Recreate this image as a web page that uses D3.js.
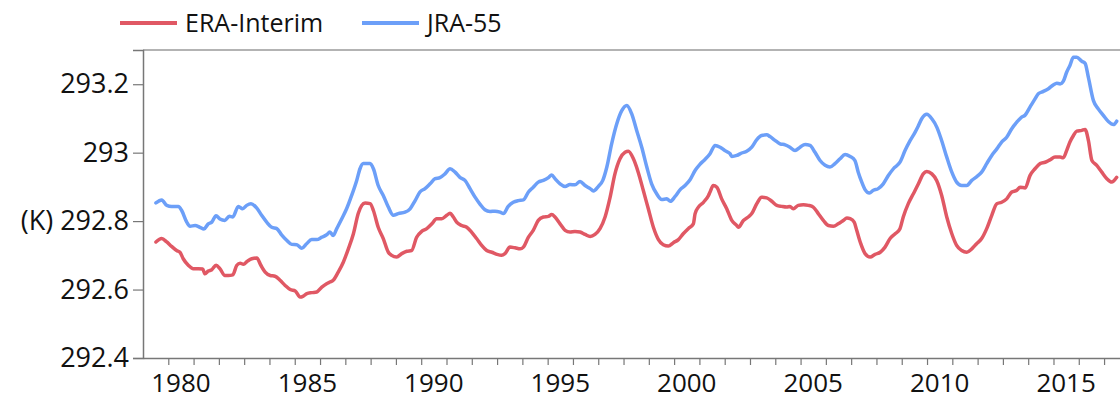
<!DOCTYPE html>
<html>
<head>
<meta charset="utf-8">
<script src="https://cdnjs.cloudflare.com/ajax/libs/d3/7.8.5/d3.min.js"></script>
<style>
    body { margin: 0; background: #fff; }
    text { font-family: "Open Sans", "Noto Sans", sans-serif; fill: #111; }
</style>
</head>
<body>
<div id="chart"></div>
<script>
// series names and colours
var seriesNames = ["ERA-Interim", "JRA-55"];
var seriesColors = ["#e05864", "#6c9ff8"];

// ERA-Interim, 12-month running mean (K)
var eraYears = [1979.51, 1979.74, 1979.94, 1980.13, 1980.33, 1980.46, 1980.59, 1980.79, 1980.99, 1981.19,
    1981.36, 1981.45, 1981.58, 1981.72, 1981.89, 1982.04, 1982.24, 1982.37, 1982.55, 1982.71,
    1982.84, 1982.97, 1983.13, 1983.30, 1983.50, 1983.66, 1983.83, 1984.03, 1984.22, 1984.42,
    1984.62, 1984.82, 1985.02, 1985.21, 1985.34, 1985.48, 1985.67, 1985.87, 1986.07, 1986.26,
    1986.39, 1986.52, 1986.72, 1986.92, 1987.12, 1987.32, 1987.51, 1987.65, 1987.78, 1987.98,
    1988.11, 1988.30, 1988.50, 1988.70, 1988.83, 1989.03, 1989.23, 1989.43, 1989.62, 1989.82,
    1990.02, 1990.22, 1990.42, 1990.61, 1990.81, 1991.01, 1991.14, 1991.27, 1991.40, 1991.60,
    1991.80, 1991.99, 1992.19, 1992.39, 1992.59, 1992.79, 1992.99, 1993.18, 1993.31, 1993.51,
    1993.71, 1993.91, 1994.04, 1994.24, 1994.43, 1994.63, 1994.83, 1995.03, 1995.16, 1995.29,
    1995.49, 1995.69, 1995.88, 1996.08, 1996.28, 1996.48, 1996.68, 1996.87, 1997.07, 1997.27,
    1997.47, 1997.66, 1997.86, 1998.06, 1998.19, 1998.39, 1998.58, 1998.78, 1998.98, 1999.18,
    1999.38, 1999.57, 1999.77, 1999.97, 2000.17, 2000.36, 2000.56, 2000.76, 2000.83, 2000.96,
    2001.16, 2001.36, 2001.42, 2001.55, 2001.69, 2001.88, 2002.08, 2002.28, 2002.48, 2002.54,
    2002.74, 2002.93, 2003.07, 2003.27, 2003.46, 2003.66, 2003.86, 2004.06, 2004.25, 2004.45,
    2004.58, 2004.71, 2004.91, 2005.11, 2005.31, 2005.50, 2005.70, 2005.90, 2006.10, 2006.30,
    2006.49, 2006.69, 2006.83, 2006.96, 2007.12, 2007.22, 2007.38, 2007.55, 2007.75, 2007.95,
    2008.15, 2008.34, 2008.54, 2008.74, 2008.93, 2009.06, 2009.26, 2009.46, 2009.66, 2009.85,
    2009.99, 2010.19, 2010.38, 2010.58, 2010.78, 2010.98, 2011.17, 2011.37, 2011.57, 2011.77,
    2011.96, 2012.16, 2012.36, 2012.56, 2012.76, 2012.95, 2013.15, 2013.35, 2013.55, 2013.68,
    2013.88, 2014.07, 2014.27, 2014.47, 2014.67, 2014.86, 2015.06, 2015.26, 2015.39, 2015.52,
    2015.65, 2015.79, 2015.92, 2016.12, 2016.25, 2016.38, 2016.52, 2016.71, 2016.91, 2017.11,
    2017.30, 2017.50];
var eraValues = [292.739, 292.749, 292.739, 292.726, 292.714, 292.709, 292.690, 292.671, 292.661, 292.661,
    292.660, 292.646, 292.654, 292.658, 292.671, 292.661, 292.641, 292.641, 292.643, 292.671,
    292.677, 292.674, 292.683, 292.690, 292.692, 292.671, 292.651, 292.641, 292.639, 292.627,
    292.612, 292.600, 292.596, 292.578, 292.581, 292.588, 292.591, 292.593, 292.607, 292.617,
    292.622, 292.627, 292.651, 292.680, 292.719, 292.763, 292.822, 292.846, 292.853, 292.851,
    292.831, 292.782, 292.749, 292.709, 292.700, 292.695, 292.705, 292.712, 292.714, 292.753,
    292.770, 292.778, 292.792, 292.807, 292.807, 292.817, 292.823, 292.812, 292.797, 292.787,
    292.782, 292.768, 292.749, 292.729, 292.714, 292.709, 292.703, 292.700, 292.705, 292.724,
    292.722, 292.719, 292.724, 292.753, 292.773, 292.802, 292.812, 292.814, 292.819, 292.812,
    292.792, 292.773, 292.768, 292.770, 292.768, 292.761, 292.755, 292.761, 292.778, 292.812,
    292.870, 292.938, 292.982, 293.001, 293.004, 292.982, 292.943, 292.890, 292.836, 292.782,
    292.746, 292.731, 292.727, 292.737, 292.746, 292.763, 292.778, 292.792, 292.822, 292.841,
    292.855, 292.875, 292.885, 292.904, 292.899, 292.865, 292.836, 292.802, 292.787, 292.782,
    292.802, 292.812, 292.822, 292.851, 292.870, 292.868, 292.858, 292.846, 292.843, 292.841,
    292.843, 292.836, 292.846, 292.848, 292.846, 292.841, 292.822, 292.802, 292.787, 292.785,
    292.792, 292.802, 292.809, 292.807, 292.797, 292.773, 292.734, 292.705, 292.695, 292.703,
    292.709, 292.724, 292.749, 292.763, 292.778, 292.812, 292.851, 292.880, 292.909, 292.938,
    292.945, 292.938, 292.919, 292.875, 292.812, 292.763, 292.729, 292.714, 292.709, 292.719,
    292.734, 292.749, 292.778, 292.817, 292.851, 292.855, 292.865, 292.885, 292.890, 292.899,
    292.897, 292.933, 292.953, 292.968, 292.972, 292.979, 292.987, 292.987, 292.985, 293.006,
    293.031, 293.050, 293.063, 293.065, 293.068, 293.036, 292.977, 292.963, 292.943, 292.924,
    292.914, 292.928];

// JRA-55, 12-month running mean (K)
var jraYears = [1979.51, 1979.74, 1979.94, 1980.13, 1980.40, 1980.53, 1980.73, 1980.86, 1981.06, 1981.25,
    1981.41, 1981.58, 1981.72, 1981.89, 1982.04, 1982.24, 1982.41, 1982.55, 1982.77, 1982.94,
    1983.10, 1983.27, 1983.50, 1983.69, 1983.89, 1984.09, 1984.29, 1984.48, 1984.68, 1984.88,
    1985.08, 1985.28, 1985.47, 1985.67, 1985.87, 1986.07, 1986.26, 1986.39, 1986.52, 1986.66,
    1986.86, 1987.05, 1987.25, 1987.45, 1987.58, 1987.71, 1987.98, 1988.11, 1988.30, 1988.50,
    1988.70, 1988.90, 1989.09, 1989.36, 1989.56, 1989.76, 1989.95, 1990.15, 1990.35, 1990.55,
    1990.74, 1990.94, 1991.14, 1991.34, 1991.53, 1991.73, 1991.93, 1992.13, 1992.33, 1992.52,
    1992.72, 1992.92, 1993.12, 1993.25, 1993.44, 1993.64, 1993.84, 1994.04, 1994.24, 1994.43,
    1994.63, 1994.83, 1995.03, 1995.16, 1995.29, 1995.49, 1995.69, 1995.88, 1996.08, 1996.28,
    1996.48, 1996.68, 1996.81, 1997.00, 1997.18, 1997.34, 1997.53, 1997.73, 1997.93, 1998.13,
    1998.32, 1998.52, 1998.72, 1998.92, 1999.11, 1999.31, 1999.51, 1999.71, 1999.85, 2000.04,
    2000.24, 2000.43, 2000.63, 2000.83, 2001.02, 2001.22, 2001.42, 2001.62, 2001.82, 2002.01,
    2002.21, 2002.28, 2002.48, 2002.67, 2002.87, 2003.07, 2003.27, 2003.46, 2003.66, 2003.79,
    2003.99, 2004.19, 2004.39, 2004.58, 2004.78, 2004.98, 2005.18, 2005.37, 2005.57, 2005.77,
    2005.97, 2006.16, 2006.36, 2006.56, 2006.76, 2006.96, 2007.15, 2007.28, 2007.42, 2007.55,
    2007.72, 2007.88, 2008.07, 2008.27, 2008.47, 2008.67, 2008.93, 2009.13, 2009.33, 2009.53,
    2009.66, 2009.79, 2009.99, 2010.19, 2010.39, 2010.58, 2010.78, 2010.98, 2011.17, 2011.37,
    2011.57, 2011.77, 2011.97, 2012.16, 2012.36, 2012.56, 2012.76, 2012.95, 2013.15, 2013.35,
    2013.55, 2013.74, 2013.87, 2014.07, 2014.27, 2014.40, 2014.60, 2014.80, 2014.99, 2015.13,
    2015.26, 2015.39, 2015.52, 2015.65, 2015.79, 2015.92, 2016.12, 2016.25, 2016.38, 2016.58,
    2016.77, 2016.97, 2017.17, 2017.37, 2017.50];
var jraValues = [292.853, 292.862, 292.846, 292.843, 292.843, 292.831, 292.797, 292.785, 292.787, 292.782,
    292.777, 292.792, 292.797, 292.816, 292.806, 292.802, 292.814, 292.812, 292.843, 292.836,
    292.846, 292.851, 292.838, 292.817, 292.797, 292.782, 292.778, 292.760, 292.744, 292.732,
    292.731, 292.721, 292.734, 292.746, 292.746, 292.753, 292.760, 292.768, 292.758, 292.778,
    292.807, 292.836, 292.875, 292.919, 292.953, 292.968, 292.968, 292.953, 292.904, 292.875,
    292.841, 292.817, 292.822, 292.826, 292.836, 292.860, 292.885, 292.895, 292.909, 292.924,
    292.927, 292.938, 292.953, 292.943, 292.928, 292.919, 292.895, 292.870, 292.849, 292.833,
    292.828, 292.829, 292.826, 292.822, 292.843, 292.855, 292.860, 292.862, 292.885, 292.899,
    292.914, 292.919, 292.927, 292.935, 292.924, 292.909, 292.901, 292.907, 292.906, 292.916,
    292.904, 292.895, 292.888, 292.901, 292.919, 292.958, 293.026, 293.084, 293.123, 293.138,
    293.114, 293.065, 293.016, 292.958, 292.909, 292.880, 292.863, 292.865, 292.858, 292.872,
    292.892, 292.904, 292.921, 292.948, 292.966, 292.980, 292.997, 293.021, 293.016, 293.006,
    292.997, 292.989, 292.992, 292.999, 293.004, 293.016, 293.038, 293.050, 293.052, 293.047,
    293.036, 293.026, 293.023, 293.016, 293.006, 293.016, 293.024, 293.021, 293.001, 292.977,
    292.963, 292.958, 292.968, 292.982, 292.995, 292.989, 292.977, 292.943, 292.914, 292.892,
    292.882, 292.890, 292.895, 292.909, 292.933, 292.953, 292.972, 293.006, 293.035, 293.060,
    293.079, 293.099, 293.112, 293.099, 293.074, 293.035, 292.987, 292.943, 292.914, 292.904,
    292.904, 292.919, 292.930, 292.943, 292.968, 292.992, 293.011, 293.031, 293.045, 293.070,
    293.089, 293.104, 293.109, 293.133, 293.157, 293.172, 293.179, 293.187, 293.198, 293.203,
    293.201, 293.209, 293.235, 293.255, 293.279, 293.279, 293.267, 293.261, 293.220, 293.152,
    293.128, 293.109, 293.091, 293.082, 293.092];

// axis ticks
var yTicks = [292.4, 292.6, 292.8, 293.0, 293.2];
var xLabelYears = [1980, 1985, 1990, 1995, 2000, 2005, 2010, 2015];
var xTickYears = d3.range(1980, 2018);

var svgWidth = 1120, svgHeight = 400;
var margin = {top: 50, right: 0, bottom: 42, left: 143};
var width = svgWidth - margin.left - margin.right;
var height = svgHeight - margin.top - margin.bottom;

var x = d3.scaleLinear().domain([1979, 2017.63]).range([0, width]);
var y = d3.scaleLinear().domain([292.4, 293.3]).range([height, 0]);

var svg = d3.select("#chart").append("svg")
    .attr("width", svgWidth)
    .attr("height", svgHeight);

var g = svg.append("g")
    .attr("transform", "translate(" + margin.left + "," + margin.top + ")");

// top frame line
g.append("line")
    .attr("x1", 0).attr("x2", width)
    .attr("y1", 0).attr("y2", 0)
    .attr("stroke", "#9a9a9a")
    .attr("stroke-width", 1.5);

// y axis
var yAxis = g.append("g")
    .call(d3.axisLeft(y)
        .tickValues(yTicks)
        .tickSize(10)
        .tickPadding(4)
        .tickFormat(function(d) {
            var s = d3.format("")(+d.toFixed(1));
            return Math.abs(d - 292.8) < 1e-6 ? "(K) " + s : s;
        }));
yAxis.select(".domain").attr("stroke", "#777").attr("stroke-width", 1.5);
yAxis.selectAll(".tick line").attr("stroke", "#777").attr("stroke-width", 1.2);
yAxis.selectAll(".tick text")
    .style("font-size", "27px")
    .style("font-family", "'Open Sans', sans-serif")
    .attr("fill", "#111");

// x axis: yearly ticks, labels centred inside the year
var xAxis = g.append("g")
    .attr("transform", "translate(0," + height + ")")
    .call(d3.axisBottom(x)
        .tickValues(xTickYears)
        .tickSize(7)
        .tickSizeOuter(0)
        .tickFormat(""));
xAxis.select(".domain").attr("stroke", "#777").attr("stroke-width", 1.5);
xAxis.selectAll(".tick line").attr("stroke", "#777").attr("stroke-width", 1.2);

g.append("g")
    .selectAll("text")
    .data(xLabelYears)
    .enter()
    .append("text")
    .attr("x", function(d) { return x(d + 0.5); })
    .attr("y", height + 34)
    .attr("text-anchor", "middle")
    .style("font-size", "26px")
    .text(function(d) { return d; });

// the two series
var series = [
    {name: seriesNames[0], years: eraYears, values: eraValues, color: seriesColors[0]},
    {name: seriesNames[1], years: jraYears, values: jraValues, color: seriesColors[1]}
];

var line = d3.line()
    .x(function(d) { return x(d[0]); })
    .y(function(d) { return y(d[1]); })
    .curve(d3.curveMonotoneX);

series.forEach(function(s) {
    var pts = s.years.map(function(yr, i) { return [yr, s.values[i]]; });
    g.append("path")
        .datum(pts)
        .attr("d", line)
        .attr("fill", "none")
        .attr("stroke", s.color)
        .attr("stroke-width", 3.5)
        .attr("stroke-linejoin", "round")
        .attr("stroke-linecap", "round");
});

// legend
var legendX = [120, 362];
var legend = svg.append("g");
series.forEach(function(s, i) {
    legend.append("line")
        .attr("x1", legendX[i]).attr("x2", legendX[i] + 57)
        .attr("y1", 23).attr("y2", 23)
        .attr("stroke", s.color)
        .attr("stroke-width", 4);
    legend.append("text")
        .attr("x", legendX[i] + 65)
        .attr("y", 32)
        .style("font-size", "25px")
        .text(s.name);
});
</script>
</body>
</html>
